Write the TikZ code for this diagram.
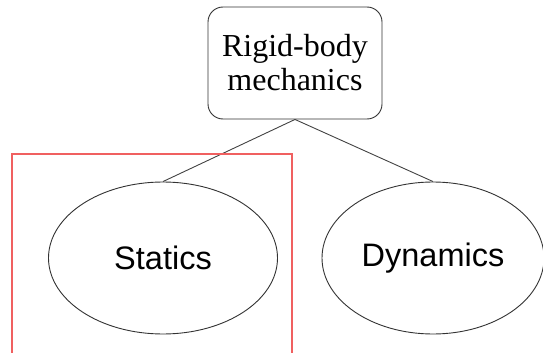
\documentclass[tikz,border=0pt]{standalone}
\usepackage{fontspec}
\setmainfont{Liberation Serif}
\setsansfont{Liberation Sans}
\usetikzlibrary{shapes.geometric}
\definecolor{edgegray}{HTML}{444444}
\definecolor{framered}{HTML}{F06060}
\tikzset{
  rootbox/.style={draw=black!80, line width=0.9pt, rounded corners=15pt,
    minimum width=174pt, minimum height=112pt, inner sep=0pt,
    align=center, font=\fontsize{32}{34}\selectfont},
  leaf/.style={ellipse, draw=black!80, line width=0.9pt, inner sep=0pt,
    minimum height=152pt,
    font=\sffamily\fontsize{32.5}{34}\selectfont},
  branch/.style={draw=edgegray, line width=0.9pt},
  highlight/.style={draw=framered, line width=1.3pt}
}
\begin{document}
\begin{tikzpicture}[x=1pt, y=-1pt]
  \useasboundingbox (0,0) rectangle (543,353);
  \clip (0,0) rectangle (543,353);
  \fill[white] (0,0) rectangle (543,353);

  % tree: root and its two branches
  \node[rootbox] (root) at (295,63) {Rigid-body\\mechanics};
  \node[leaf, minimum width=229pt] (statics) at (163,258) {Statics};
  \node[leaf, minimum width=222pt] (dynamics) at (433,258) {Dynamics};

  \draw[branch] (root.south) -- (statics.north);
  \draw[branch] (root.south) -- (dynamics.north);

  % frame around the statics branch
  \coordinate (frameA) at (12,154);
  \coordinate (frameB) at (292,358);
  \draw[highlight] (frameA) rectangle (frameB);
\end{tikzpicture}
\end{document}
